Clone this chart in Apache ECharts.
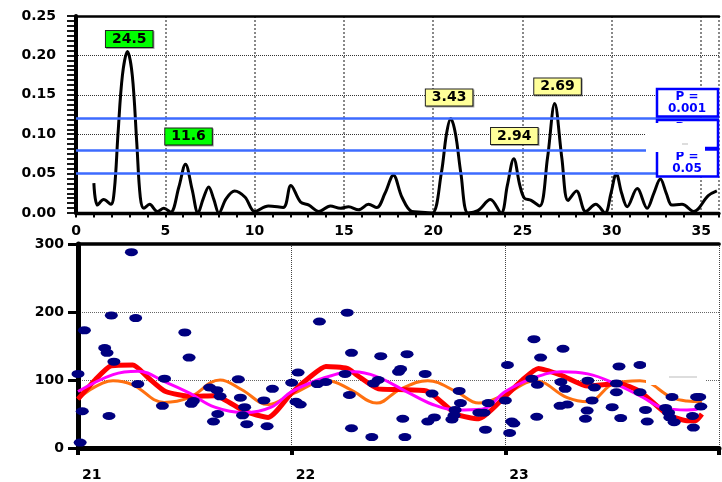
<!DOCTYPE html>
<html>
<head>
<meta charset="utf-8">
<script src="https://cdn.jsdelivr.net/npm/echarts@6/dist/echarts.min.js"></script>
<style>
html,body{margin:0;padding:0;background:#fff;overflow:hidden;}
#chart{width:722px;height:482px;}
</style>
</head>
<body>
<div id="chart"></div>
<script>
// periodogram (top)
const freqX = [1.0,1.2,1.55,1.95,2.15,2.35,2.6,2.88,3.15,3.4,3.6,3.8,4.12,4.55,4.92,5.3,5.76,6.13,6.5,6.83,7.12,7.43,7.72,8.0,8.4,8.88,9.47,10.0,10.77,11.6,12.03,12.57,13.04,13.6,14.24,14.8,15.26,15.82,16.38,16.84,17.3,17.77,18.25,18.8,19.35,19.94,20.45,20.74,20.98,21.25,21.55,21.95,22.5,23.2,23.8,24.15,24.51,24.85,25.1,25.48,25.96,26.4,26.8,27.2,27.55,28.02,28.54,29.1,29.62,29.95,30.25,30.55,30.86,31.42,31.98,32.35,32.72,33.05,33.37,33.93,34.58,35.4,35.88]
const power = [0.038,0.010,0.017,0.011,0.030,0.100,0.175,0.205,0.175,0.090,0.020,0.006,0.011,0.002,0.006,0.001,0.033,0.062,0.030,0.000,0.018,0.033,0.017,0.000,0.018,0.028,0.020,0.002,0.009,0.007,0.035,0.014,0.010,0.002,0.009,0.006,0.008,0.004,0.011,0.007,0.025,0.048,0.020,0.002,0.001,0.000,0.050,0.100,0.120,0.100,0.050,0.000,0.003,0.017,0.000,0.035,0.069,0.035,0.019,0.016,0.009,0.070,0.139,0.070,0.016,0.028,0.002,0.011,0.000,0.025,0.050,0.025,0.008,0.031,0.006,0.025,0.043,0.025,0.010,0.011,0.002,0.022,0.028]
const sigLevels = [0.1225,0.0838,0.0465]
const peakLabels = ['24.5','11.6','3.43','2.94','2.69']
const peakLabelPos = [[2.98,0.2208],[6.30,0.0971],[20.89,0.1466],[24.54,0.0977],[26.96,0.1605]]
const peakLabelColors = ['#00ff00','#00ff00','#ffff99','#ffff99','#ffff99']

// time series (bottom)
const dotT = [21.0,21.03,21.02,21.01,21.125,21.136,21.156,21.168,21.145,21.25,21.27,21.28,21.395,21.405,21.5,21.52,21.53,21.54,21.616,21.65,21.665,21.634,21.654,21.75,21.76,21.78,21.77,21.79,21.87,21.91,21.885,22.0,22.03,22.02,22.04,22.13,22.12,22.16,22.26,22.28,22.25,22.27,22.28,22.417,22.375,22.383,22.405,22.5,22.51,22.54,22.52,22.53,22.625,22.657,22.637,22.668,22.784,22.79,22.765,22.76,22.75,22.876,22.9,22.92,22.907,23.01,23.0,23.03,23.04,23.02,23.134,23.165,23.124,23.15,23.147,23.27,23.26,23.28,23.256,23.29,23.386,23.417,23.406,23.383,23.375,23.532,23.52,23.52,23.5,23.54,23.63,23.63,23.656,23.664,23.75,23.764,23.78,23.77,23.79,23.895,23.91,23.915,23.876,23.88]
const dotV = [109,173,54,8,147,140,195,127,47,288,191,94,62,102,170,133,65,69,89,85,76,39,50,101,74,60,48,35,70,87,32,96,111,68,64,186,94,97,199,140,109,78,29,135,16,95,100,112,116,138,43,16,109,80,39,45,84,66,56,48,42,52,52,66,27,122,70,39,36,22,160,133,102,93,46,146,97,87,62,64,99,89,70,55,43,120,95,82,60,44,122,82,56,39,59,52,75,45,38,75,75,61,47,30]
const redT = [21.0,21.08,21.156,21.256,21.33,21.41,21.534,21.64,21.78,21.89,22.0,22.08,22.16,22.26,22.306,22.406,22.5,22.63,22.77,22.876,23.0,23.08,23.155,23.262,23.386,23.53,23.63,23.756,23.85,23.89,23.92]
const redV = [72,100,121,122,103,83,76,77,54,45,81,103,120,117,107,87,86,84,50,43,76,100,117,107,91,95,83,50,40,40,50]
const orangeT = [21.0,21.164,21.256,21.403,21.52,21.665,21.765,21.89,22.0,22.167,22.275,22.398,22.506,22.637,22.77,22.876,23.0,23.14,23.29,23.386,23.51,23.63,23.78,23.85,23.92]
const orangeV = [72,99,93,67,74,100,86,64,79,99,86,66,86,99,83,66,79,99,74,68,95,99,74,69,68]
const pinkT = [21.0,21.164,21.28,21.41,21.52,21.64,21.78,21.904,22.0,22.16,22.29,22.398,22.537,22.66,22.77,22.89,23.0,23.124,23.262,23.386,23.53,23.64,23.74,23.85,23.9]
const pinkV = [83,108,113,97,81,60,52,60,83,104,112,105,83,64,56,57,83,102,112,109,92,75,59,56,57]

const lbl = {color:'#000',fontWeight:'bold',fontSize:14,fontFamily:'DejaVu Sans'}
const zip = (a,b) => a.map((v,i)=>[v,b[i]])

const chart = echarts.init(document.getElementById('chart'))

const options = {
  animation:false,
  grid:[
    {left:76,top:16,width:646,height:197},
    {left:78,top:244,width:648,height:209}
  ],
  xAxis:[
    {
      gridIndex:0,type:'value',min:0,max:36,interval:5,
      axisLine:{lineStyle:{color:'#000',width:3.3}},
      axisTick:{show:true,length:4.6,lineStyle:{color:'#000',width:2}},
      minorTick:{show:true,splitNumber:5,length:4.6,lineStyle:{color:'#000',width:2}},
      axisLabel:{...lbl,margin:11,formatter:v=>v%5===0?String(v):''},
      splitLine:{show:true,lineStyle:{color:'#888',width:2,type:'dotted'}}
    },
    {
      gridIndex:0,type:'value',min:0,max:36,position:'top',
      axisLine:{onZero:false,lineStyle:{color:'#000',width:2.5}},
      axisTick:{show:false},axisLabel:{show:false},splitLine:{show:false}
    },
    {
      gridIndex:1,type:'value',min:21,max:24,interval:1,
      axisLine:{lineStyle:{color:'#000',width:5}},
      axisTick:{show:true,length:7,lineStyle:{color:'#000',width:4}},
      axisLabel:{...lbl,margin:20,align:'left',padding:[0,0,0,4],formatter:v=>v<24?String(v):''},
      splitLine:{show:true,lineStyle:{color:'#444',width:1,type:'dotted'}}
    },
    {
      gridIndex:1,type:'value',min:21,max:24,position:'top',
      axisLine:{onZero:false,lineStyle:{color:'#000',width:3.7}},
      axisTick:{show:false},axisLabel:{show:false},splitLine:{show:false}
    }
  ],
  yAxis:[
    {
      gridIndex:0,type:'value',min:0,max:0.25,interval:0.05,
      axisLine:{show:true,lineStyle:{color:'#000',width:4}},
      axisTick:{show:true,length:9,lineStyle:{color:'#000',width:1.8}},
      minorTick:{show:true,splitNumber:8,length:9,lineStyle:{color:'#000',width:1.8}},
      axisLabel:{...lbl,margin:20,formatter:v=>v.toFixed(2)},
      splitLine:{show:true,lineStyle:{color:'#333',width:1,type:'dotted'}}
    },
    {
      gridIndex:1,type:'value',min:0,max:300,interval:100,
      axisLine:{show:true,lineStyle:{color:'#000',width:5}},
      axisTick:{show:true,length:10,lineStyle:{color:'#000',width:3}},
      axisLabel:{...lbl,margin:14},
      splitLine:{show:true,lineStyle:{color:'#666',width:1,type:'dotted'}}
    }
  ],
  series:[
    {
      type:'line',xAxisIndex:0,yAxisIndex:0,
      data:zip(freqX,power),
      smooth:0.35,showSymbol:false,
      lineStyle:{color:'#000',width:3},
      z:3,
      markLine:{
        silent:true,symbol:'none',label:{show:false},
        lineStyle:{color:'#3d6bff',width:2.5,type:'solid'},
        data:sigLevels.map(v=>({yAxis:v}))
      },
      markPoint:{
        symbol:'rect',symbolSize:1,
        itemStyle:{color:'rgba(0,0,0,0)'},
        data:peakLabels.map((t,i)=>({
          coord:peakLabelPos[i],value:t,
          label:{
            show:true,position:'inside',formatter:t,...lbl,lineHeight:12,
            backgroundColor:peakLabelColors[i],borderColor:'#222',borderWidth:1,
            padding:[2,6,2,6],
            shadowColor:'rgba(0,0,0,0.35)',shadowOffsetX:1,shadowOffsetY:1
          }
        }))
      }
    },
    {
      type:'line',xAxisIndex:2,yAxisIndex:1,
      data:zip(orangeT,orangeV),smooth:0.4,showSymbol:false,
      lineStyle:{color:'#ff7010',width:3},z:2
    },
    {
      type:'line',xAxisIndex:2,yAxisIndex:1,
      data:zip(redT,redV),smooth:0.2,showSymbol:false,
      lineStyle:{color:'#ff0000',width:5},z:3
    },
    {
      type:'line',xAxisIndex:2,yAxisIndex:1,
      data:zip(pinkT,pinkV),smooth:0.4,showSymbol:false,
      lineStyle:{color:'#ff00ff',width:3},z:4
    },
    {
      type:'scatter',xAxisIndex:2,yAxisIndex:1,
      data:zip(dotT,dotV),
      symbol:'path://M0,5A5,5,0,1,1,10,5A5,5,0,1,1,0,5Z',
      symbolSize:[13,8],
      itemStyle:{color:'#00007f',opacity:1},z:5
    }
  ],
  graphic:[
    {type:'rect',z:100,shape:{x:657,y:89,width:61,height:27.5},style:{fill:'#fff',stroke:'#0000ff',lineWidth:2.5}},
    {type:'text',z:101,style:{x:687,y:103,text:'P =\n0.001',textAlign:'center',textVerticalAlign:'middle',fill:'#0000ff',font:'bold 12px DejaVu Sans',lineHeight:12.5}},
    {type:'rect',z:100,shape:{x:657,y:120,width:61,height:28},style:{fill:'#fff',stroke:'#0000ff',lineWidth:2.5}},
    {type:'text',z:101,style:{x:687,y:134,text:'P =\n0.01',textAlign:'center',textVerticalAlign:'middle',fill:'#0000ff',font:'bold 12px DejaVu Sans',lineHeight:12.5}},
    {type:'rect',z:100,shape:{x:657,y:149.5,width:61,height:27},style:{fill:'#fff',stroke:'#0000ff',lineWidth:2.5}},
    {type:'text',z:101,style:{x:687,y:163,text:'P =\n0.05',textAlign:'center',textVerticalAlign:'middle',fill:'#0000ff',font:'bold 12px DejaVu Sans',lineHeight:12.5}},
    {type:'rect',z:110,shape:{x:646,y:123,width:59,height:29},style:{fill:'#fff'}},
    {type:'line',z:111,shape:{x1:682,y1:144,x2:688,y2:144},style:{stroke:'#bbb',lineWidth:1}},
    {type:'rect',z:110,shape:{x:646,y:363,width:59,height:22},style:{fill:'#fff'}},
    {type:'line',z:111,shape:{x1:669,y1:377,x2:697,y2:377},style:{stroke:'#bbb',lineWidth:1}}
  ]
}

chart.setOption(options)
</script>
</body>
</html>
